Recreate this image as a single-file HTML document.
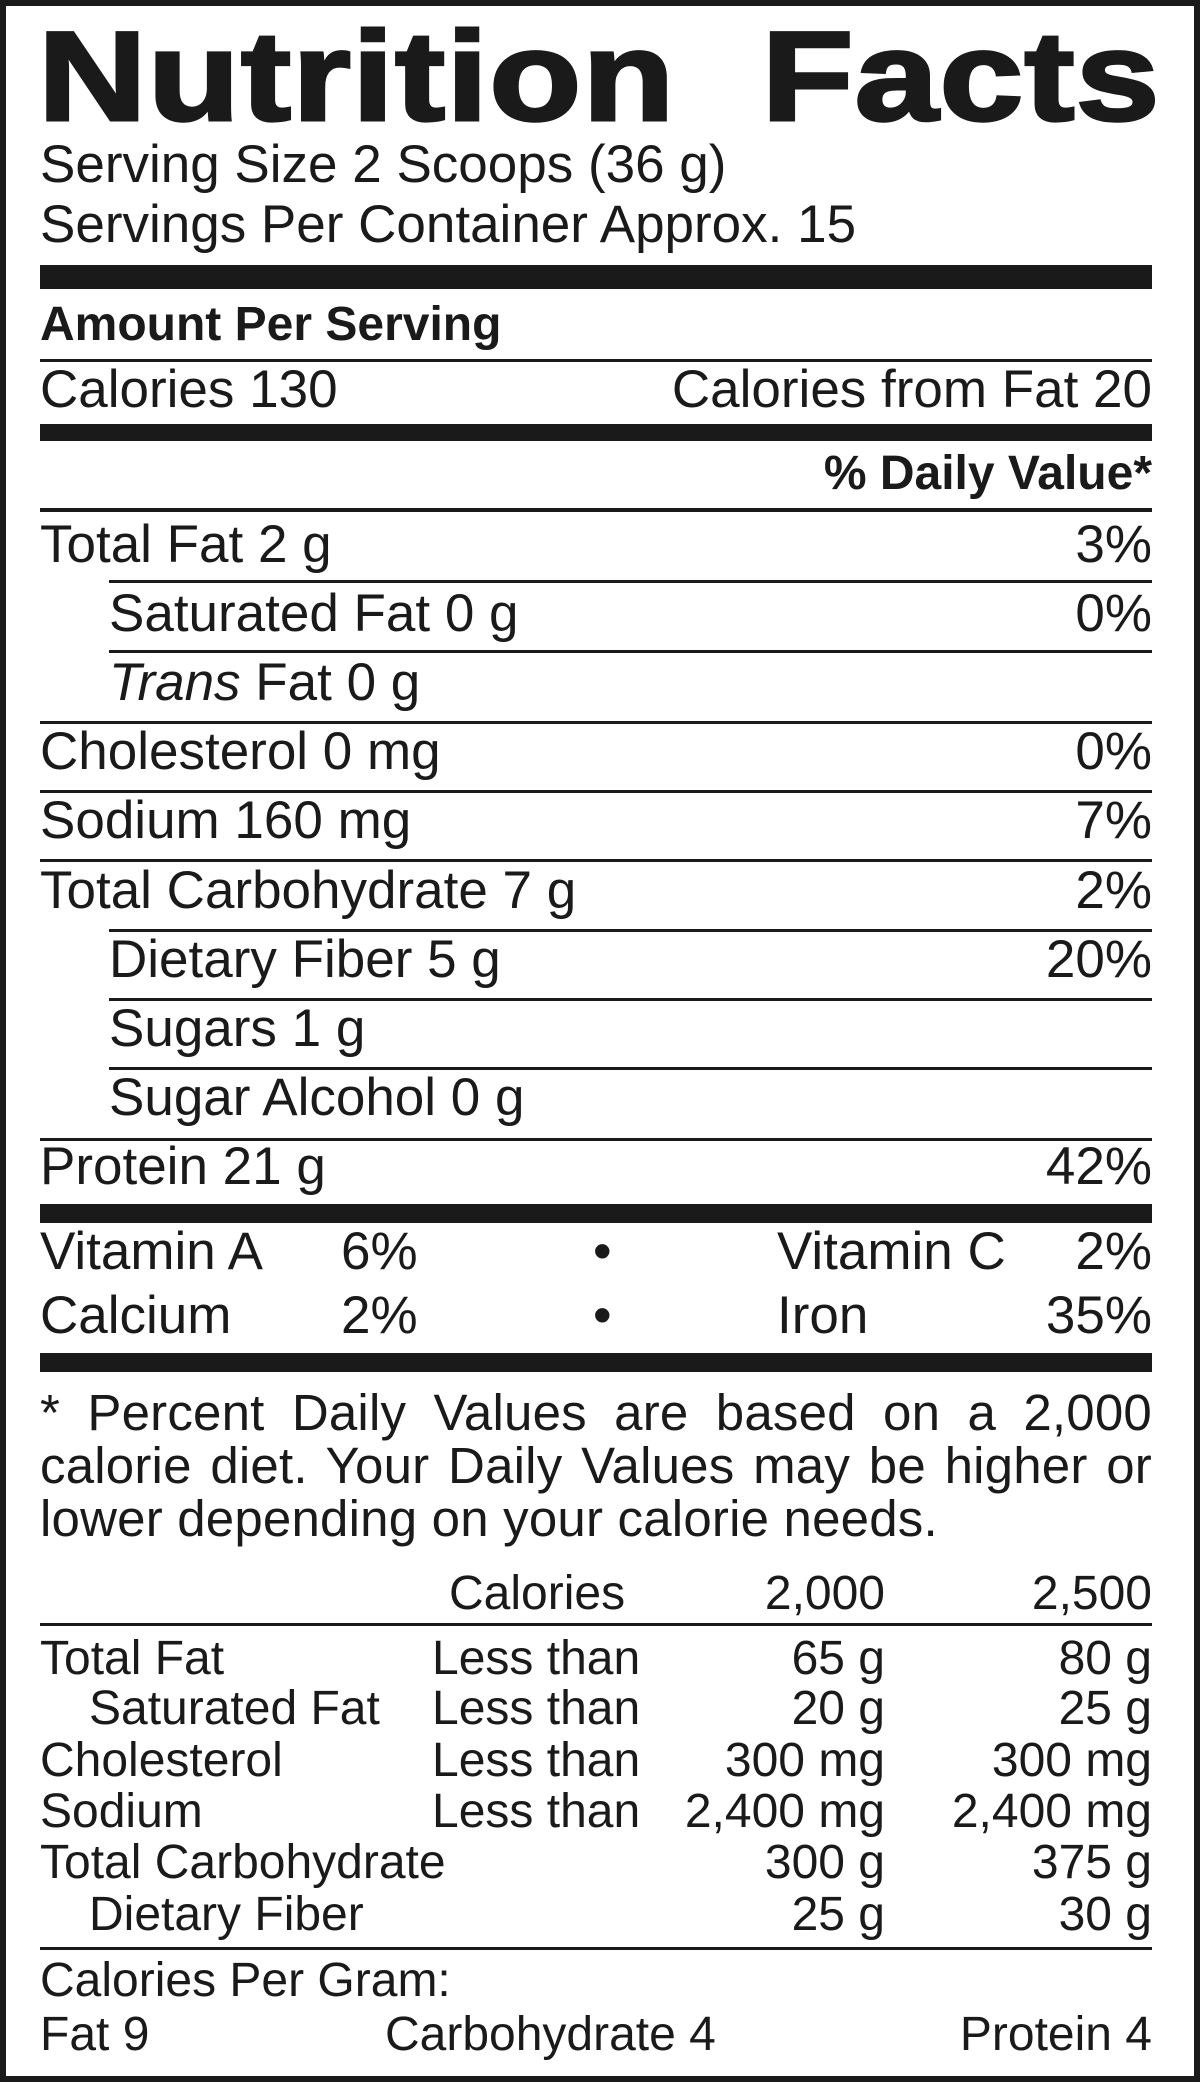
<!DOCTYPE html>
<html><head><meta charset="utf-8"><style>
html,body{margin:0;padding:0;background:#fff;}
#p{position:relative;width:1200px;height:2082px;box-sizing:border-box;border:6px solid #1a1a1a;overflow:hidden;font-family:"Liberation Sans",sans-serif;color:#1a1a1a;}
.t{position:absolute;line-height:0;white-space:nowrap;font-size:53px;}
.r{right:42px;text-align:right;}
.l{left:34px;}
.b{font-weight:bold;}
.bar{position:absolute;left:34px;right:42px;background:#1a1a1a;}
.s{font-size:48px;}
</style></head><body><div id="p">
<div class="t b" style="left:32px;top:70px;font-size:127px;transform:scaleX(1.185);transform-origin:0 0;-webkit-text-stroke:3px #1a1a1a;letter-spacing:1px;">Nutrition&nbsp; Facts</div>
<div class="t l" style="top:159px">Serving Size 2 Scoops (36 g)</div>
<div class="t l" style="top:219px">Servings Per Container Approx. 15</div>
<div class="bar" style="top:259px;height:24px"></div>
<div class="t l b" style="top:319px;font-size:48px">Amount Per Serving</div>
<div class="bar" style="top:353px;height:3px"></div>
<div class="t l" style="top:384px">Calories 130</div>
<div class="t r" style="top:384px">Calories from Fat 20</div>
<div class="bar" style="top:418px;height:17px"></div>
<div class="t r b" style="top:468px;font-size:48px">% Daily Value*</div>
<div class="bar" style="top:502px;height:4px"></div>
<div class="t l" style="top:539px">Total Fat 2 g</div><div class="t r" style="top:539px">3%</div>
<div class="bar" style="top:574px;height:3px;left:103px"></div>
<div class="t" style="left:103px;top:608px">Saturated Fat 0 g</div><div class="t r" style="top:608px">0%</div>
<div class="bar" style="top:644px;height:3px;left:103px"></div>
<div class="t" style="left:103px;top:677px"><i>Trans</i> Fat 0 g</div>
<div class="bar" style="top:715px;height:3px"></div>
<div class="t l" style="top:746px">Cholesterol 0 mg</div><div class="t r" style="top:746px">0%</div>
<div class="bar" style="top:784px;height:3px"></div>
<div class="t l" style="top:815px">Sodium 160 mg</div><div class="t r" style="top:815px">7%</div>
<div class="bar" style="top:853px;height:3px"></div>
<div class="t l" style="top:885px">Total Carbohydrate 7 g</div><div class="t r" style="top:885px">2%</div>
<div class="bar" style="top:923px;height:3px;left:103px"></div>
<div class="t" style="left:103px;top:954px">Dietary Fiber 5 g</div><div class="t r" style="top:954px">20%</div>
<div class="bar" style="top:992px;height:3px;left:103px"></div>
<div class="t" style="left:103px;top:1023px">Sugars 1 g</div>
<div class="bar" style="top:1061px;height:3px;left:103px"></div>
<div class="t" style="left:103px;top:1092px">Sugar Alcohol 0 g</div>
<div class="bar" style="top:1132px;height:3px"></div>
<div class="t l" style="top:1161px">Protein 21 g</div><div class="t r" style="top:1161px">42%</div>
<div class="bar" style="top:1198px;height:19px"></div>
<div class="t l" style="top:1246px">Vitamin A</div><div class="t" style="left:335px;top:1246px">6%</div>
<div class="t" style="left:587px;top:1246px">•</div>
<div class="t" style="left:771px;top:1246px">Vitamin C</div><div class="t r" style="top:1246px">2%</div>
<div class="t l" style="top:1310px">Calcium</div><div class="t" style="left:335px;top:1310px">2%</div>
<div class="t" style="left:587px;top:1310px">•</div>
<div class="t" style="left:771px;top:1310px">Iron</div><div class="t r" style="top:1310px">35%</div>
<div class="bar" style="top:1347px;height:19px"></div>
<div style="position:absolute;left:34px;right:42px;top:1380px;font-size:51px;line-height:53px;letter-spacing:0.2px;white-space:nowrap;">
<div style="text-align:justify;text-align-last:justify;">* Percent Daily Values are based on a 2,000</div>
<div style="text-align:justify;text-align-last:justify;">calorie diet. Your Daily Values may be higher or</div>
<div>lower depending on your calorie needs.</div>
</div>
<div class="t s" style="left:443px;top:1588px">Calories</div>
<div class="t s" style="right:309px;top:1588px">2,000</div>
<div class="t s r" style="top:1588px">2,500</div>
<div class="bar" style="top:1617px;height:3px"></div>
<div class="t s l" style="top:1653px">Total Fat</div><div class="t s" style="left:426px;top:1653px">Less than</div><div class="t s" style="right:309px;top:1653px">65 g</div><div class="t s r" style="top:1653px">80 g</div>
<div class="t s" style="left:83px;top:1703px">Saturated Fat</div><div class="t s" style="left:426px;top:1703px">Less than</div><div class="t s" style="right:309px;top:1703px">20 g</div><div class="t s r" style="top:1703px">25 g</div>
<div class="t s l" style="top:1755px">Cholesterol</div><div class="t s" style="left:426px;top:1755px">Less than</div><div class="t s" style="right:309px;top:1755px">300 mg</div><div class="t s r" style="top:1755px">300 mg</div>
<div class="t s l" style="top:1806px">Sodium</div><div class="t s" style="left:426px;top:1806px">Less than</div><div class="t s" style="right:309px;top:1806px">2,400 mg</div><div class="t s r" style="top:1806px">2,400 mg</div>
<div class="t s l" style="top:1857px">Total Carbohydrate</div><div class="t s" style="right:309px;top:1857px">300 g</div><div class="t s r" style="top:1857px">375 g</div>
<div class="t s" style="left:83px;top:1909px">Dietary Fiber</div><div class="t s" style="right:309px;top:1909px">25 g</div><div class="t s r" style="top:1909px">30 g</div>
<div class="bar" style="top:1941px;height:3px"></div>
<div class="t s l" style="top:1975px">Calories Per Gram:</div>
<div class="t s l" style="top:2029px">Fat 9</div>
<div class="t s" style="left:379px;top:2029px">Carbohydrate 4</div>
<div class="t s r" style="top:2029px">Protein 4</div>
</div></body></html>
